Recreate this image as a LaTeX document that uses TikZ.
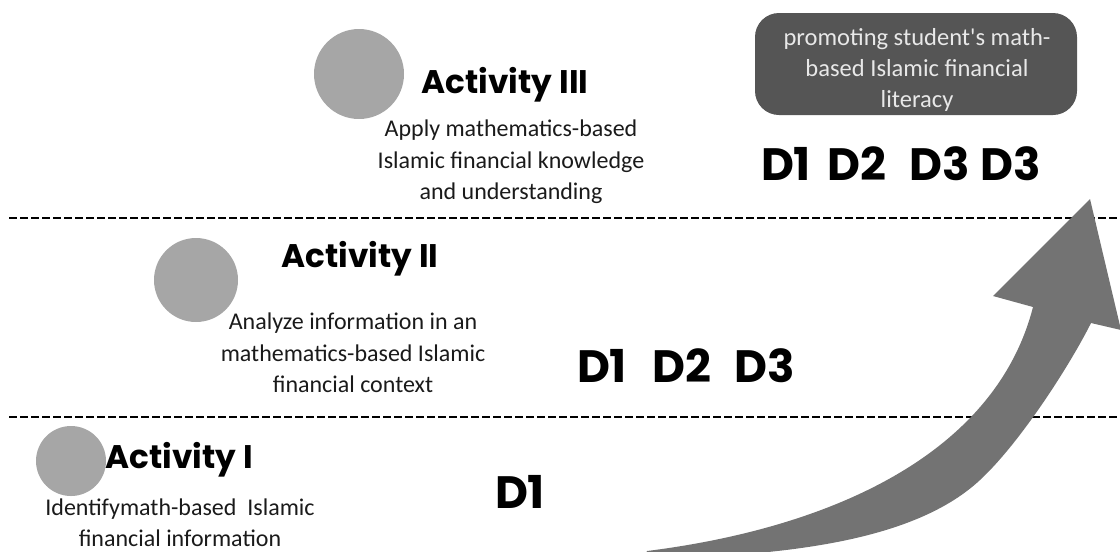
\documentclass[tikz,border=0pt]{standalone}
\usepackage{fontspec}
\setmainfont{Carlito}
\newfontfamily\headfont{Poppins}
\definecolor{dotgray}{HTML}{A6A6A6}
\definecolor{arrowgray}{HTML}{737373}
\definecolor{boxgray}{HTML}{555555}
\definecolor{boxtext}{HTML}{E8E8E8}
\definecolor{bodyink}{HTML}{1A1A1A}
\begin{document}
\begin{tikzpicture}[x=0.75pt,y=-0.75pt,
  band/.style={line width=2.2pt, dash pattern=on 6pt off 2.25pt},
  dot/.style={circle, fill=dotgray, minimum size=#1, inner sep=0pt},
  title/.style={anchor=base, inner sep=0pt, font=\headfont\bfseries\fontsize{24.5}{28}\selectfont},
  body/.style={align=center, inner sep=0pt, text=bodyink, font=\fontsize{18}{23.5}\selectfont},
  dim/.style={anchor=base, inner sep=0pt, font=\headfont\bfseries\fontsize{34}{38}\selectfont},
  goalbox/.style={rounded corners=18pt, fill=boxgray, minimum width=241.5pt, minimum height=76.5pt, inner sep=0pt},
  goaltext/.style={align=center, inner sep=0pt, text=boxtext, font=\fontsize{18.4}{23}\selectfont}
]
\useasboundingbox (0,0) rectangle (1120,551);
\clip (0,0) rectangle (1120,551);

% level separators
\coordinate (sepAw) at (9,218);   \coordinate (sepAe) at (1120,218);
\coordinate (sepBw) at (9,417);   \coordinate (sepBe) at (1120,417);
\draw[band] (sepAw) -- (sepAe);
\draw[band] (sepBw) -- (sepBe);

% rising arrow
\fill[arrowgray] (647,551) .. controls (830,528) and (995,455) .. (1033,307)
  -- (993,296) -- (1090,199) -- (1121,330) -- (1091,323)
  .. controls (1070,365) and (1020,443) .. (980,480)
  .. controls (920,536) and (810,550) .. (720,556)
  -- (720,565) -- (640,565) -- cycle;

% activity III
\node[dot=67.5pt] (c3) at (359,74) {};
\node[title] (t3) at (505,93) {Activity III};
\node[body] (b3) at (511,162) {Apply mathematics-based\\Islamic financial knowledge\\and understanding};

% activity II
\node[dot=63pt] (c2) at (196,280) {};
\node[title] (t2) at (360,267) {Activity II};
\node[body] (b2) at (353,353) {Analyze information in an\\mathematics-based Islamic\\financial context};

% activity I
\node[dot=52.5pt] (c1) at (71,461) {};
\node[title] (t1) at (179,468) {Activity I};
\node[body] (b1) at (180,523) {Identifymath-based\ \ Islamic\\financial information};

% goal
\node[goalbox] (gb) at (916,64) {};
\node[goaltext] (gt) at (917,70) {promoting student\textquotesingle s math-\\based Islamic financial\\literacy};

% dimensions reached at each level
\node[dim] (d31) at (786,180) {D1};
\node[dim] (d32) at (857,180) {D2};
\node[dim] (d33) at (940,180) {D3};
\node[dim] (d34) at (1011,180) {D3};
\node[dim] (d21) at (602,382) {D1};
\node[dim] (d22) at (682,382) {D2};
\node[dim] (d23) at (765,382) {D3};
\node[dim] (d11) at (520,508) {D1};
\end{tikzpicture}
\end{document}
